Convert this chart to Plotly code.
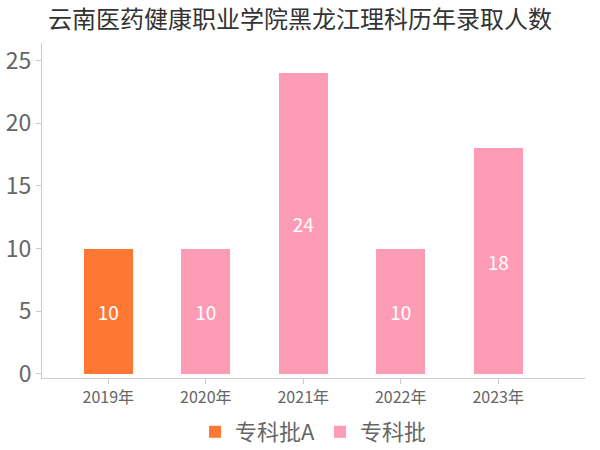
import plotly.graph_objects as go

years = ["2019年", "2020年", "2021年", "2022年", "2023年"]
series_a_name = "专科批A"
series_a = [10, None, None, None, None]
series_b_name = "专科批"
series_b = [None, 10, 24, 10, 18]
title = "云南医药健康职业学院黑龙江理科历年录取人数"

FONT = "Noto Sans CJK SC, Microsoft YaHei, sans-serif"

fig = go.Figure()
fig.add_trace(go.Bar(
    x=years, y=series_a, name=series_a_name, marker_color="#FE7833",
    marker_line_width=0, width=0.5,
    text=series_a, textposition="inside", insidetextanchor="middle",
    textfont=dict(color="white", size=19, family=FONT),
))
fig.add_trace(go.Bar(
    x=years, y=series_b, name=series_b_name, marker_color="#FF9CB5",
    marker_line_width=0, width=0.5,
    text=series_b, textposition="inside", insidetextanchor="middle",
    textfont=dict(color="white", size=19, family=FONT),
))

fig.update_layout(
    barmode="stack",
    width=600, height=450,
    margin=dict(l=42, r=15, t=43, b=72, autoexpand=False),
    paper_bgcolor="white", plot_bgcolor="white",
    font=dict(family=FONT, color="#666666"),
    title=dict(text=title, x=0.5, xanchor="center", y=0.957, yanchor="middle",
               yref="container", automargin=False,
               font=dict(size=24, color="#333333", family=FONT)),
    showlegend=True,
    legend=dict(orientation="h", x=0.5, xanchor="center", y=0.04, yanchor="middle",
                yref="container", itemclick=False, itemdoubleclick=False,
                font=dict(size=22, color="#666666", family=FONT),
                itemwidth=30, traceorder="normal"),
    uniformtext=dict(mode="show", minsize=10),
)
fig.update_xaxes(
    range=[-0.68, 4.89], showgrid=False, showline=True, linecolor="#cccccc", linewidth=1,
    ticks="outside", ticklen=5, tickcolor="#cccccc", automargin=False,
    tickfont=dict(size=16, color="#666666", family=FONT), zeroline=False,
)
fig.update_yaxes(
    range=[-0.32, 26.4], showgrid=False, showline=True, linecolor="#cccccc", linewidth=1,
    ticks="outside", ticklen=5, tickcolor="#cccccc", tickvals=[0, 5, 10, 15, 20, 25],
    automargin=False,
    tickfont=dict(size=23, color="#666666", family=FONT), zeroline=False,
)

fig.write_html(
    "out.html",
    config={"displayModeBar": False},
    post_script="document.body.style.margin='0';document.body.style.overflow='hidden';",
)
